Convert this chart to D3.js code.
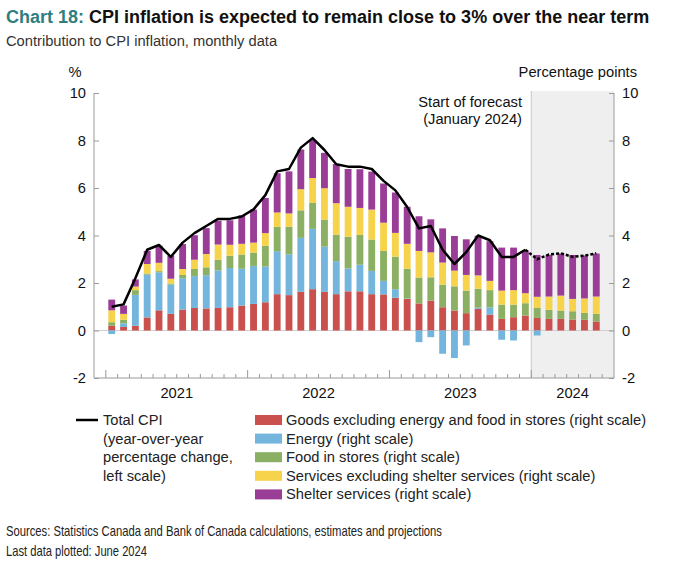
<!DOCTYPE html>
<html><head><meta charset="utf-8">
<script src="https://cdn.jsdelivr.net/npm/d3@7"></script>
<style>
body{margin:0;background:#fff;}
text{font-family:"Liberation Sans",Arial,Helvetica,sans-serif;}
</style></head>
<body><svg id="c" width="674" height="567"></svg>
<script>
const months = ["2020-12",
"2021-01","2021-02","2021-03","2021-04","2021-05","2021-06","2021-07","2021-08","2021-09","2021-10","2021-11","2021-12",
"2022-01","2022-02","2022-03","2022-04","2022-05","2022-06","2022-07","2022-08","2022-09","2022-10","2022-11","2022-12",
"2023-01","2023-02","2023-03","2023-04","2023-05","2023-06","2023-07","2023-08","2023-09","2023-10","2023-11","2023-12",
"2024-01","2024-02","2024-03","2024-04","2024-05","2024-06","2024-07"];
const dataMonths = months.slice(1, 43);
const years = ["2021","2022","2023","2024"];
const forecastStart = "2024-01";
const leftTicks = [-2,0,2,4,6,8,10];
const rightTicks = [-2,0,2,4,6,8,10];

const goods = [0.2,0.15,0.2,0.55,0.85,0.7,0.88,0.95,0.93,0.95,0.98,1.05,
 1.12,1.19,1.53,1.49,1.63,1.74,1.63,1.53,1.65,1.65,1.53,1.52,
 1.38,1.33,1.14,1.26,0.98,0.84,0.73,0.91,0.67,0.49,0.56,0.63,
 0.53,0.49,0.49,0.46,0.45,0.38];
const energy = [-0.15,0.15,1.3,1.8,1.6,1.23,1.32,1.34,1.4,1.58,1.65,1.55,
 1.6,1.5,1.81,1.72,2.27,2.54,1.9,1.39,0.96,1.12,0.98,0.57,
 0.36,0.02,-0.49,-0.28,-0.98,-1.16,-0.63,0.05,0.3,-0.39,-0.42,0.0,
 -0.21,0,0,0,0,0];
const food = [0.15,0.15,0.2,0.05,0.05,0.05,0.14,0.3,0.33,0.45,0.52,0.6,
 0.56,0.88,1.02,1.16,1.16,1.09,1.14,1.12,1.34,1.25,1.32,1.26,
 1.37,1.25,1.09,0.98,0.95,1.02,0.95,0.8,0.73,0.6,0.53,0.52,
 0.42,0.38,0.35,0.35,0.29,0.32];
const services = [0.5,0.25,0.15,0.4,0.35,0.2,0.25,0.39,0.56,0.64,0.46,0.45,
 0.42,0.53,0.61,0.56,0.89,1.05,1.32,1.32,1.26,1.14,1.26,1.19,
 1.0,1.05,1.12,1.05,0.93,0.66,0.66,0.56,0.39,0.59,0.61,0.42,
 0.47,0.56,0.63,0.52,0.61,0.73];
const shelter = [0.45,0.35,0.3,0.55,0.72,0.97,1.05,1.03,1.09,1.0,1.03,1.2,
 1.39,1.48,1.65,1.77,1.67,1.6,1.49,1.65,1.59,1.63,1.6,1.65,
 1.7,1.56,1.46,1.39,1.44,1.46,1.5,1.67,1.67,1.81,1.79,1.79,
 1.76,1.76,1.77,1.85,1.81,1.81];
const totalCPI = [1.0,1.1,2.2,3.4,3.6,3.1,3.7,4.1,4.4,4.7,4.7,4.8,
 5.1,5.7,6.7,6.8,7.7,8.1,7.6,7.0,6.9,6.9,6.8,6.3,
 5.9,5.2,4.3,4.4,3.4,2.8,3.3,4.0,3.8,3.1,3.1,3.4,
 3.0,3.2,3.25,3.1,3.15,3.25];

const seriesKeys = ["goods","energy","food","services","shelter"];
const seriesNames = ["Goods excluding energy and food in stores (right scale)","Energy (right scale)","Food in stores (right scale)","Services excluding shelter services (right scale)","Shelter services (right scale)"];
const colors = ["#c9504d","#73b5dd","#8bb063","#f6d34a","#9a3d97"];

const rows = dataMonths.map((m,i)=>({month:m, goods:goods[i], energy:energy[i], food:food[i], services:services[i], shelter:shelter[i], cpi:totalCPI[i]}));

const svg = d3.select("#c");
const L = 94, R = 614, T = 93, B = 378;
const FS = 14.7;

const x = d3.scaleBand().domain(months).range([L, R]).paddingInner(0.42).paddingOuter(0.21);
const step = x.step();
const y = d3.scaleLinear().domain([-2,10]).range([B, T]);
const yR = d3.scaleLinear().domain([-2,10]).range([B, T]);
const slotStart = m => x(m) - (step - x.bandwidth())/2;

// forecast shading
const fx = slotStart(forecastStart);
svg.append("rect").attr("x", fx).attr("y", T-2).attr("width", R-fx).attr("height", B-T+2)
  .attr("fill","#efefef");
svg.append("line").attr("x1",fx).attr("x2",fx).attr("y1",T-2).attr("y2",B).attr("stroke","#c8c8c8").attr("stroke-width",1);

// zero line
svg.append("line").attr("x1",L).attr("x2",R).attr("y1",y(0)).attr("y2",y(0)).attr("stroke","#cfcfcf").attr("stroke-width",1);

// axes
const gray = "#9a9a9a";
const leftAx = svg.append("g").attr("transform",`translate(${L},0)`)
  .call(d3.axisRight(y).tickValues(leftTicks).tickSize(5).tickFormat(""));
leftAx.select(".domain").attr("stroke",gray).attr("d",`M0,${T}V${B}`);
leftAx.selectAll(".tick line").attr("stroke",gray);
const rightAx = svg.append("g").attr("transform",`translate(${R},0)`)
  .call(d3.axisLeft(yR).tickValues(rightTicks).tickSize(5).tickFormat(""));
rightAx.select(".domain").attr("stroke",gray).attr("d",`M0,${T}V${B}`);
rightAx.selectAll(".tick line").attr("stroke",gray);

svg.append("g").selectAll("text").data(leftTicks).join("text")
  .attr("x", 86).attr("y", d=>y(d)+5).attr("text-anchor","end")
  .attr("font-size",FS).attr("fill","#111").text(d=>d);
svg.append("g").selectAll("text").data(rightTicks).join("text")
  .attr("x", 622).attr("y", d=>yR(d)+5).attr("text-anchor","start")
  .attr("font-size",FS).attr("fill","#111").text(d=>d);
svg.append("text").attr("x",75).attr("y",77).attr("text-anchor","middle").attr("font-size",FS).attr("fill","#111").text("%");
svg.append("text").attr("x",637).attr("y",77).attr("text-anchor","end").attr("font-size",FS).attr("fill","#111").text("Percentage points");

// bottom axis
const bottom = svg.append("g");
bottom.append("line").attr("x1",L).attr("x2",R).attr("y1",B).attr("y2",B).attr("stroke",gray);
const boundaries = months.slice(1).map(m=>({m, pos: slotStart(m), year: m.endsWith("-01")}));
bottom.selectAll("line.t").data(boundaries).join("line").attr("class","t")
  .attr("x1",d=>d.pos).attr("x2",d=>d.pos).attr("y1",B).attr("y2",d=>B-(d.year?8:4))
  .attr("stroke",gray);
bottom.selectAll("text").data(years).join("text")
  .attr("x", yr => {
    const first = slotStart(yr+"-01");
    const last = Math.min(first + step*12, R);
    return (first + last)/2;
  })
  .attr("y", 398).attr("text-anchor","middle").attr("font-size",FS).attr("fill","#111").text(d=>d);

// bars
const stack = d3.stack().keys(seriesKeys).offset(d3.stackOffsetDiverging);
const stacked = stack(rows);
svg.append("g").selectAll("g").data(stacked).join("g")
  .attr("fill",(d,i)=>colors[i])
  .selectAll("rect").data(d=>d).join("rect")
  .attr("x", d=>x(d.data.month))
  .attr("width", x.bandwidth())
  .attr("y", d=>yR(Math.max(d[0],d[1])))
  .attr("height", d=>Math.abs(yR(d[0])-yR(d[1])));

// line
const line = d3.line().x(d=>x(d.month)+x.bandwidth()/2).y(d=>y(d.cpi));
const fi = dataMonths.indexOf(forecastStart);
svg.append("path").datum(rows.slice(0, fi)).attr("d", line)
  .attr("fill","none").attr("stroke","#000").attr("stroke-width",2.5).attr("stroke-linejoin","round");
svg.append("path").datum(rows.slice(fi-1)).attr("d", line)
  .attr("fill","none").attr("stroke","#000").attr("stroke-width",2.5).attr("stroke-dasharray","3,2");

// forecast label
svg.append("text").attr("x",522).attr("y",107).attr("text-anchor","end").attr("font-size",FS).attr("fill","#111").text("Start of forecast");
svg.append("text").attr("x",522).attr("y",124).attr("text-anchor","end").attr("font-size",FS).attr("fill","#111").text("(January 2024)");

// title
const title = svg.append("text").attr("x",6).attr("y",23).attr("font-size",18).attr("font-weight","bold");
title.append("tspan").attr("fill","#2f7e80").text("Chart 18: ");
title.append("tspan").attr("fill","#111").text("CPI inflation is expected to remain close to 3% over the near term");
svg.append("text").attr("x",6).attr("y",46).attr("font-size",FS).attr("fill","#333").text("Contribution to CPI inflation, monthly data");

// legend
const lg = svg.append("g");
lg.append("line").attr("x1",76).attr("x2",98).attr("y1",420).attr("y2",420).attr("stroke","#000").attr("stroke-width",2.5);
const cpiLines = ["Total CPI","(year-over-year","percentage change,","left scale)"];
lg.selectAll("text.c").data(cpiLines).join("text").attr("class","c")
  .attr("x",103).attr("y",(d,i)=>425+i*18.7).attr("font-size",FS).attr("fill","#222").text(d=>d);
const items = lg.selectAll("g.i").data(seriesNames).join("g").attr("class","i")
  .attr("transform",(d,i)=>`translate(255,${420+i*18.6})`);
items.append("rect").attr("x",0).attr("y",-5).attr("width",27).attr("height",10).attr("fill",(d,i)=>colors[i]);
items.append("text").attr("x",31).attr("y",5).attr("font-size",FS).attr("fill","#222").text(d=>d);

// footer
svg.append("text").attr("x",6).attr("y",536).attr("font-size",14.5).attr("fill","#222")
  .style("font-family","'Liberation Sans Narrow','Liberation Sans',Arial,sans-serif")
  .attr("textLength",436).attr("lengthAdjust","spacingAndGlyphs")
  .text("Sources: Statistics Canada and Bank of Canada calculations, estimates and projections");
svg.append("text").attr("x",6).attr("y",556).attr("font-size",14.5).attr("fill","#222")
  .style("font-family","'Liberation Sans Narrow','Liberation Sans',Arial,sans-serif")
  .attr("textLength",141).attr("lengthAdjust","spacingAndGlyphs")
  .text("Last data plotted: June 2024");
</script></body></html>
